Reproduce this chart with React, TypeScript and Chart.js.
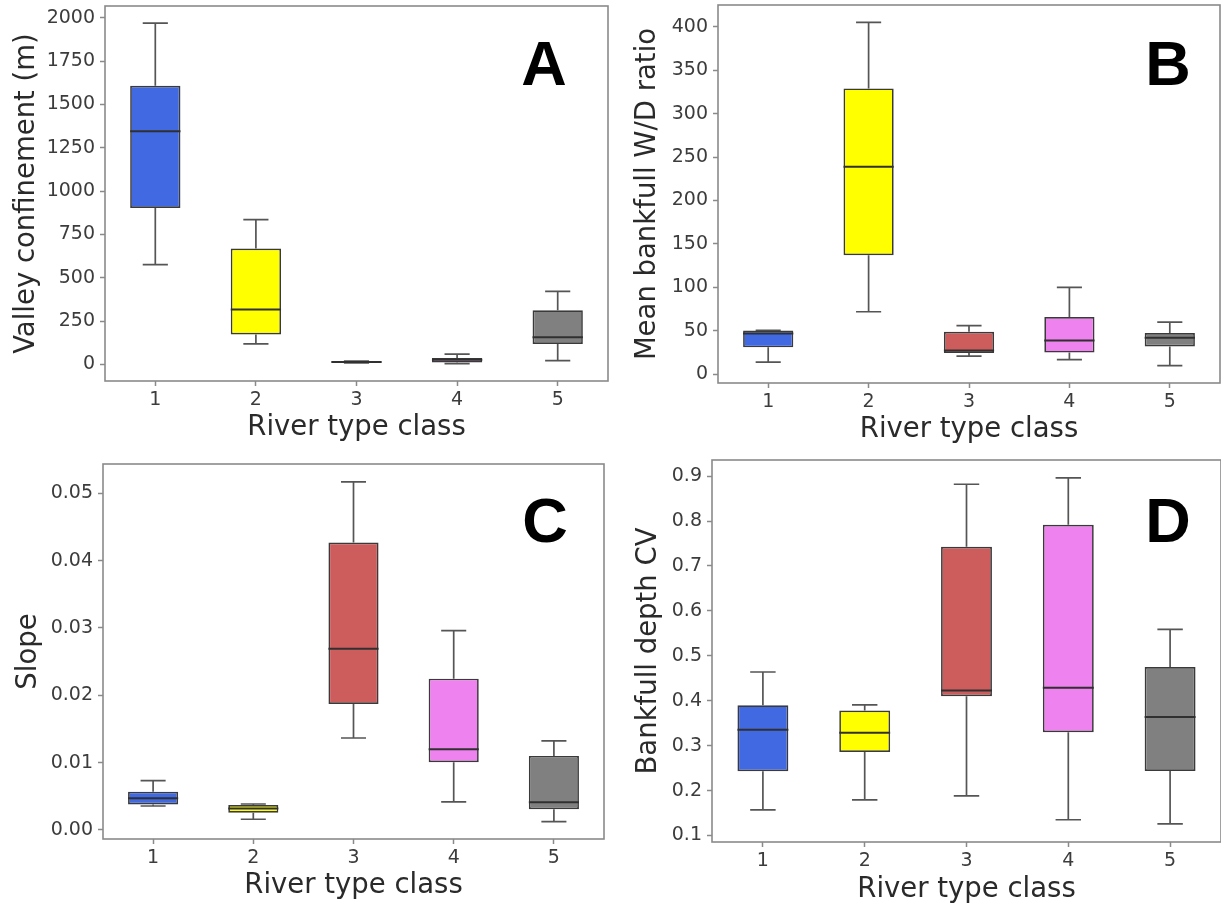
import React, { useEffect, useRef } from 'react';
import { Chart, registerables } from 'chart.js';

Chart.register(...registerables);

// ---------- data ----------
const classes = ['1', '2', '3', '4', '5'];
const boxColors = ['#4169E1', '#FFFF00', '#CD5C5C', '#EE82EE', '#808080'];

// A: Valley confinement (m)
const confLow = [576, 119, 10, 5, 23];
const confQ1 = [903, 173, 12, 12, 119];
const confMed = [1345, 317, 15, 27, 157];
const confQ3 = [1608, 669, 18, 38, 313];
const confHigh = [1969, 836, 20, 60, 422];
const confTicks = [0, 250, 500, 750, 1000, 1250, 1500, 1750, 2000];

// B: Mean bankfull W/D ratio
const wdLow = [14, 72, 21, 17, 10];
const wdQ1 = [31, 137, 24.5, 25, 32];
const wdMed = [47, 239, 27.5, 39, 42];
const wdQ3 = [50.5, 329, 49, 66, 47.5];
const wdHigh = [50.5, 405, 56, 100, 60];
const wdTicks = [0, 50, 100, 150, 200, 250, 300, 350, 400];

// C: Slope
const slopeLow = [0.00356, 0.00159, 0.01366, 0.00416, 0.00123];
const slopeQ1 = [0.0038, 0.00257, 0.0187, 0.01005, 0.00307];
const slopeMed = [0.0047, 0.0032, 0.0269, 0.012, 0.0041];
const slopeQ3 = [0.00569, 0.0037, 0.0427, 0.02247, 0.011];
const slopeHigh = [0.00732, 0.00386, 0.0517, 0.0296, 0.01322];
const slopeTicks = [0, 0.01, 0.02, 0.03, 0.04, 0.05];

// D: Bankfull depth CV
const cvLow = [0.157, 0.1795, 0.188, 0.135, 0.126];
const cvQ1 = [0.243, 0.286, 0.41, 0.33, 0.2435];
const cvMed = [0.3355, 0.329, 0.423, 0.429, 0.364];
const cvQ3 = [0.39, 0.378, 0.743, 0.792, 0.475];
const cvHigh = [0.464, 0.391, 0.882, 0.896, 0.559];
const cvTicks = [0.1, 0.2, 0.3, 0.4, 0.5, 0.6, 0.7, 0.8, 0.9];

// ---------- style ----------
const FONT = "'DejaVu Sans', sans-serif";
const TICK_SIZE = 19;
const TITLE_SIZE = 27.5;
const TICK_COLOR = '#3c3c3c';
const TITLE_COLOR = '#2a2a2a';
const SPINE = '#8a8a8a';
const EDGE = '#3a3a3a';
const WHISKER = '#555555';
const MEDIAN = '#303030';

type Panel = {
  letter: string;
  yTitle: string;
  low: number[];
  q1: number[];
  med: number[];
  q3: number[];
  high: number[];
  ticks: number[];
  min: number;
  max: number;
  decimals: number;
  rect: { left: number; top: number; width: number; height: number };
  area: { left: number; top: number; right: number; bottom: number };
  yTitleX: number;
  xTitleY: number;
  letterX: number;
  letterBase: number;
};

const panels: Panel[] = [
  {
    letter: 'A', yTitle: 'Valley confinement (m)',
    low: confLow, q1: confQ1, med: confMed, q3: confQ3, high: confHigh,
    ticks: confTicks, min: -95, max: 2068, decimals: 0,
    rect: { left: 0, top: 0, width: 610, height: 450 },
    area: { left: 105, top: 6, right: 608, bottom: 381 },
    yTitleX: 27, xTitleY: 428, letterX: 544, letterBase: 85,
  },
  {
    letter: 'B', yTitle: 'Mean bankfull W/D ratio',
    low: wdLow, q1: wdQ1, med: wdMed, q3: wdQ3, high: wdHigh,
    ticks: wdTicks, min: -10, max: 425, decimals: 0,
    rect: { left: 610, top: 0, width: 611, height: 450 },
    area: { left: 718, top: 5, right: 1220, bottom: 383 },
    yTitleX: 648, xTitleY: 430, letterX: 1168, letterBase: 85,
  },
  {
    letter: 'C', yTitle: 'Slope',
    low: slopeLow, q1: slopeQ1, med: slopeMed, q3: slopeQ3, high: slopeHigh,
    ticks: slopeTicks, min: -0.00134, max: 0.05435, decimals: 2,
    rect: { left: 0, top: 450, width: 610, height: 459 },
    area: { left: 103, top: 464, right: 604, bottom: 839 },
    yTitleX: 29, xTitleY: 886, letterX: 545, letterBase: 542,
  },
  {
    letter: 'D', yTitle: 'Bankfull depth CV',
    low: cvLow, q1: cvQ1, med: cvMed, q3: cvQ3, high: cvHigh,
    ticks: cvTicks, min: 0.0855, max: 0.936, decimals: 1,
    rect: { left: 610, top: 450, width: 611, height: 459 },
    area: { left: 712, top: 460, right: 1221, bottom: 842 },
    yTitleX: 649, xTitleY: 890, letterX: 1168, letterBase: 542,
  },
];

function BoxPanel({ p }: { p: Panel }) {
  const ref = useRef<HTMLCanvasElement>(null);

  useEffect(() => {
    const canvas = ref.current;
    if (!canvas) return;
    const W = p.rect.width;
    const H = p.rect.height;
    const aL = p.area.left - p.rect.left;
    const aT = p.area.top - p.rect.top;
    const aR = p.area.right - p.rect.left;
    const aB = p.area.bottom - p.rect.top;
    const titleLH = TITLE_SIZE * 1.2;

    const extras = {
      id: 'boxExtras',
      beforeDatasetsDraw(chart: any) {
        const { ctx } = chart;
        const x = chart.scales.x;
        const y = chart.scales.y;
        const catW = x.getPixelForValue(1) - x.getPixelForValue(0);
        const capHalf = catW * 0.125;
        ctx.save();
        ctx.strokeStyle = WHISKER;
        ctx.lineWidth = 1.7;
        for (let i = 0; i < classes.length; i++) {
          const xc = x.getPixelForValue(i);
          const yHi = y.getPixelForValue(p.high[i]);
          const yQ3 = y.getPixelForValue(p.q3[i]);
          const yQ1 = y.getPixelForValue(p.q1[i]);
          const yLo = y.getPixelForValue(p.low[i]);
          ctx.beginPath();
          ctx.moveTo(xc, yQ3);
          ctx.lineTo(xc, yHi);
          ctx.moveTo(xc - capHalf, yHi);
          ctx.lineTo(xc + capHalf, yHi);
          ctx.moveTo(xc, yQ1);
          ctx.lineTo(xc, yLo);
          ctx.moveTo(xc - capHalf, yLo);
          ctx.lineTo(xc + capHalf, yLo);
          ctx.stroke();
        }
        ctx.restore();
      },
      afterDatasetsDraw(chart: any) {
        const { ctx } = chart;
        const x = chart.scales.x;
        const y = chart.scales.y;
        const catW = x.getPixelForValue(1) - x.getPixelForValue(0);
        const boxHalf = catW * 0.25;
        ctx.save();
        ctx.strokeStyle = MEDIAN;
        ctx.lineWidth = 2;
        for (let i = 0; i < classes.length; i++) {
          const xc = x.getPixelForValue(i);
          const ym = y.getPixelForValue(p.med[i]);
          ctx.beginPath();
          ctx.moveTo(xc - boxHalf, ym);
          ctx.lineTo(xc + boxHalf, ym);
          ctx.stroke();
        }
        ctx.restore();
      },
      afterDraw(chart: any) {
        const { ctx, chartArea } = chart;
        ctx.save();
        ctx.strokeStyle = SPINE;
        ctx.lineWidth = 1.6;
        ctx.strokeRect(chartArea.left, chartArea.top, chartArea.right - chartArea.left, chartArea.bottom - chartArea.top);
        ctx.fillStyle = '#000000';
        ctx.font = "bold 63px 'Liberation Sans', Arial, sans-serif";
        ctx.textAlign = 'center';
        ctx.textBaseline = 'alphabetic';
        ctx.fillText(p.letter, p.letterX - p.rect.left, p.letterBase - p.rect.top);
        ctx.restore();
      },
    };

    const chart = new Chart(canvas, {
      type: 'bar',
      data: {
        labels: classes,
        datasets: [
          {
            data: p.q1.map((v, i) => [v, p.q3[i]]) as any,
            backgroundColor: boxColors,
            borderColor: EDGE,
            borderWidth: 1.7,
            borderSkipped: false,
            categoryPercentage: 1,
            barPercentage: 0.5,
          },
        ],
      },
      options: {
        responsive: false,
        animation: false,
        devicePixelRatio: 1,
        layout: { padding: { left: 0, top: aT, right: W - aR, bottom: 0 } },
        plugins: {
          legend: { display: false },
          tooltip: { enabled: false },
          title: { display: false },
        },
        scales: {
          x: {
            type: 'category',
            offset: true,
            grid: {
              display: true,
              offset: false,
              drawOnChartArea: false,
              drawTicks: true,
              tickLength: 5,
              tickColor: SPINE,
              tickWidth: 1.5,
            },
            border: { display: false },
            ticks: {
              color: TICK_COLOR,
              font: { family: FONT, size: TICK_SIZE },
              padding: 3,
              maxRotation: 0,
              autoSkip: false,
            },
            title: {
              display: true,
              text: 'River type class',
              color: TITLE_COLOR,
              font: { family: FONT, size: TITLE_SIZE },
              padding: { top: 0, bottom: H - (p.xTitleY - p.rect.top) - titleLH / 2 },
            },
            afterFit: (s: any) => {
              s.height = H - aB;
              s.paddingLeft = 0;
              s.paddingRight = 0;
              s.paddingTop = 0;
              s.paddingBottom = 0;
            },
          },
          y: {
            type: 'linear',
            min: p.min,
            max: p.max,
            afterBuildTicks: (s: any) => {
              s.ticks = p.ticks.map((v) => ({ value: v }));
            },
            grid: {
              display: true,
              drawOnChartArea: false,
              drawTicks: true,
              tickLength: 5,
              tickColor: SPINE,
              tickWidth: 1.5,
            },
            border: { display: false },
            ticks: {
              color: TICK_COLOR,
              font: { family: FONT, size: TICK_SIZE },
              padding: 5,
              autoSkip: false,
              callback: (v: any) => Number(v).toFixed(p.decimals),
            },
            title: {
              display: true,
              text: p.yTitle,
              color: TITLE_COLOR,
              font: { family: FONT, size: TITLE_SIZE },
              padding: { top: p.yTitleX - p.rect.left - titleLH / 2, bottom: 0 },
            },
            afterFit: (s: any) => {
              s.width = aL;
              s.paddingLeft = 0;
              s.paddingRight = 0;
              s.paddingTop = 0;
              s.paddingBottom = 0;
            },
          },
        },
      } as any,
      plugins: [extras],
    });

    return () => chart.destroy();
  }, [p]);

  return (
    <canvas
      ref={ref}
      width={p.rect.width}
      height={p.rect.height}
      style={{ position: 'absolute', left: p.rect.left, top: p.rect.top, display: 'block' }}
    />
  );
}

export default function App() {
  return (
    <div
      style={{
        position: 'fixed',
        left: 0,
        top: 0,
        width: 1221,
        height: 909,
        background: '#ffffff',
        overflow: 'hidden',
      }}
    >
      {panels.map((p) => (
        <BoxPanel key={p.letter} p={p} />
      ))}
    </div>
  );
}
